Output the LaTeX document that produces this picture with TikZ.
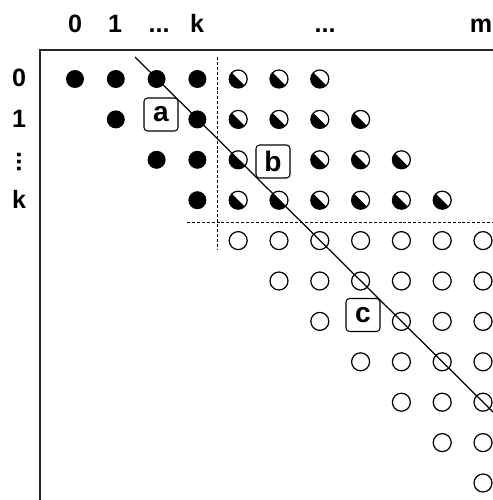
\documentclass[tikz,border=0pt]{standalone}
\usepackage{fontspec}
\setmainfont{Liberation Sans}
\usepackage{tikz}

\tikzset{
  fulldot/.style={circle,fill=black,minimum size=0.36cm,inner sep=0pt},
  opendot/.style={circle,draw=black,line width=0.7pt,fill=white,minimum size=0.36cm,inner sep=0pt},
  halfdot/.style={opendot,path picture={
      \fill[black] (path picture bounding box.north west) -- (path picture bounding box.south east)
        -- (path picture bounding box.south west) -- cycle;}},
  lbl/.style={font=\fontsize{14.3}{16}\selectfont\bfseries,inner sep=0pt},
  tag/.style={draw,rounded corners=2pt,line width=0.6pt,fill=white,inner sep=0pt,
      minimum width=0.68cm,minimum height=0.66cm,font=\fontsize{16}{17}\selectfont\bfseries},
  cut/.style={line width=0.55pt,dash pattern=on 1.7pt off 1.1pt}
}

\begin{document}
\begin{tikzpicture}[x=0.02cm,y=-0.02cm]
        \useasboundingbox (0,0) rectangle (493,500);
        \draw[line width=0.85pt,black!85] (40,500) -- (40,50) -- (493,50);

        % column and row labels
        \node[lbl,anchor=base] (col0) at (75,33) {0};
        \node[lbl,anchor=base] (col1) at (115,33) {1};
        \node[lbl,anchor=base] (colA) at (159,33) {...};
        \node[lbl,anchor=base] (colk) at (197,33) {k};
        \node[lbl,anchor=base] (colB) at (325,33) {...};
        \node[lbl,anchor=base] (colm) at (481,33) {m};
        \node[lbl,anchor=base] (row0) at (19,87) {0};
        \node[lbl,anchor=base] (row1) at (19,127.4) {1};
        \node[lbl,rotate=90] (rowA) at (19,162) {...};
        \node[lbl,anchor=base] (rowk) at (19,208.2) {k};

        % dots
        \foreach \i/\cols in {0/{0,1,2,3},1/{1,3},2/{2,3},3/{3}} {
            \foreach \j in \cols
                \node[fulldot] (d-\i-\j) at ({75+40.8*\j},{79+40.4*\i}) {};
        }
        \foreach \i/\cols in {0/{4,5,6},1/{4,...,7},2/{4,6,7,8},3/{4,...,9}} {
            \foreach \j in \cols
                \node[halfdot] (d-\i-\j) at ({75+40.8*\j},{79+40.4*\i}) {};
        }
        \foreach \i/\cols in {4/{4,...,10},5/{5,...,10},6/{6,8,9,10},7/{7,...,10},8/{8,9,10},9/{9,10},10/{10}} {
            \foreach \j in \cols
                \node[opendot] (d-\i-\j) at ({75+40.8*\j},{79+40.4*\i}) {};
        }

        % dashed cuts and diagonal
        \coordinate (vtop) at (217,57);
        \coordinate (vbot) at (217,250);
        \coordinate (hleft) at (187,222);
        \coordinate (hright) at (493,222);
        \draw[cut] (vtop) -- (vbot);
        \draw[cut] (hleft) -- (hright);
        \coordinate (diagtop) at (135,57);
        \coordinate (diagend) at (493,412);
        \draw[line width=0.7pt] (diagtop) -- (diagend);

        \node[tag] (a) at (161,114.5) {a};
        \node[tag] (b) at (273,161.5) {b};
        \node[tag] (c) at (363,315) {c};
    \end{tikzpicture}
\end{document}
